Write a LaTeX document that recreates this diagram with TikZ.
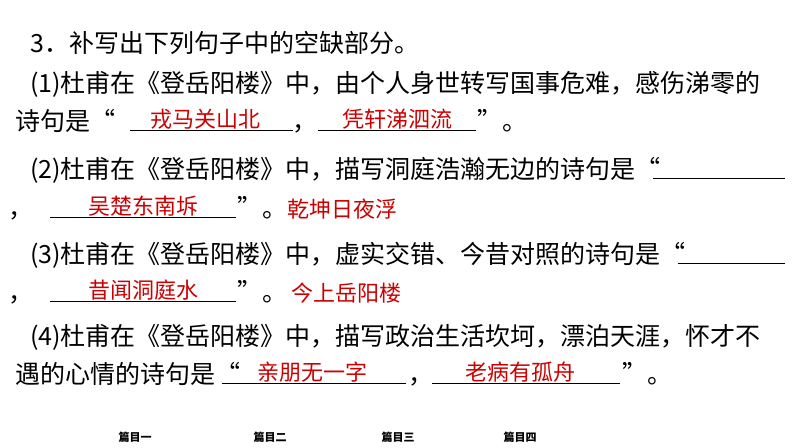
\documentclass[tikz,border=0pt]{standalone}
\usepackage{fontspec}
\setmainfont{Noto Sans CJK SC}
\begin{document}
\begin{tikzpicture}[x=1pt,y=-1pt,
  t/.style={anchor=base west,inner sep=0pt,font=\fontsize{25}{25}\selectfont},
  ans/.style={anchor=base,inner sep=0pt,text=red!80!black,font=\fontsize{22}{22}\selectfont},
  answ/.style={ans,anchor=base west},
  ul/.style={line width=0.8pt},
  tab/.style={inner sep=0pt,font=\fontsize{11}{11}\selectfont\bfseries}]
\useasboundingbox (0,0) rectangle (794,447);
\node[t] (l1) at (30,52) {3．补写出下列句子中的空缺部分。};
\node[t] (l2) at (30,92) {(1)杜甫在《登岳阳楼》中，由个人身世转写国事危难，感伤涕零的};
\node[t] (l3a) at (15,130) {诗句是“};
\node[t] (l3b) at (292,130) {，};
\node[t] (l3c) at (477,130) {”。};
\draw[ul] (130,130) coordinate (u1a) -- (293,130) coordinate (u1b);
\draw[ul] (318,130) coordinate (u2a) -- (476,130) coordinate (u2b);
\node[ans] (a1) at (205,127) {戎马关山北};
\node[ans] (a2) at (397,127) {凭轩涕泗流};
\node[t] (l4) at (30,178) {(2)杜甫在《登岳阳楼》中，描写洞庭浩瀚无边的诗句是“};
\draw[ul] ([xshift=-8pt]l4.base east) coordinate (u3a) -- (785,178) coordinate (u3b);
\node[t] (l5a) at (8,217) {，};
\node[t] (l5b) at (237,217) {”。};
\draw[ul] (50,217) coordinate (u4a) -- (236,217) coordinate (u4b);
\node[ans] (a3) at (143,214) {吴楚东南坼};
\node[answ] (a4) at (l5b.base east) {乾坤日夜浮};
\node[t] (l6) at (30,263) {(3)杜甫在《登岳阳楼》中，虚实交错、今昔对照的诗句是“};
\draw[ul] ([xshift=-8pt]l6.base east) coordinate (u5a) -- (785,263) coordinate (u5b);
\node[t] (l7a) at (8,301) {，};
\node[t] (l7b) at (237,301) {”。};
\draw[ul] (50,301) coordinate (u6a) -- (236,301) coordinate (u6b);
\node[ans] (a5) at (143,298) {昔闻洞庭水};
\node[answ] (a6) at ([xshift=4pt]l7b.base east) {今上岳阳楼};
\node[t] (l8) at (30,345) {(4)杜甫在《登岳阳楼》中，描写政治生活坎坷，漂泊天涯，怀才不};
\node[t] (l9a) at (15,383) {遇的心情的诗句是“};
\node[t] (l9b) at (408,383) {，};
\node[t] (l9c) at (622,383) {”。};
\draw[ul] (222,383) coordinate (u7a) -- (406,383) coordinate (u7b);
\draw[ul] (432,383) coordinate (u8a) -- (620,383) coordinate (u8b);
\node[ans] (a7) at (312,380) {亲朋无一字};
\node[ans] (a8) at (520,380) {老病有孤舟};
\node[tab] (p1) at (135,437) {篇目一};
\node[tab] (p2) at (270,437) {篇目二};
\node[tab] (p3) at (398,437) {篇目三};
\node[tab] (p4) at (520,437) {篇目四};
\end{tikzpicture}
\end{document}
